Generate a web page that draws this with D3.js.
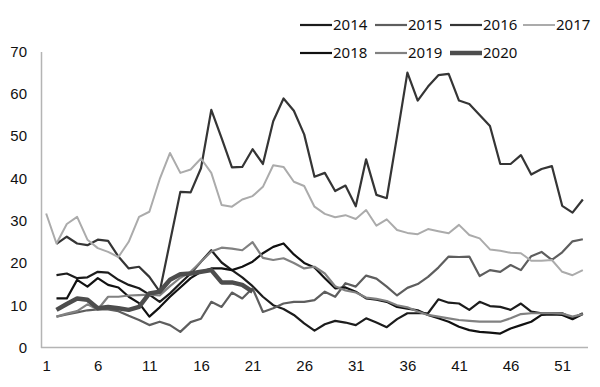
<!DOCTYPE html>
<html>
<head>
<meta charset="utf-8">
<script src="https://cdn.jsdelivr.net/npm/d3@7"></script>
<style>
  body { margin: 0; background: #fff; }
  svg { display: block; }
</style>
</head>
<body>
<div id="chart"></div>
<script>
// weeks on the x axis
var weeks = [1, 2, 3, 4, 5, 6, 7, 8, 9, 10, 11, 12, 13, 14, 15, 16, 17, 18, 19, 20,
             21, 22, 23, 24, 25, 26, 27, 28, 29, 30, 31, 32, 33, 34, 35, 36, 37, 38, 39, 40,
             41, 42, 43, 44, 45, 46, 47, 48, 49, 50, 51, 52, 53];
var xTicks = [1, 6, 11, 16, 21, 26, 31, 36, 41, 46, 51];
var yTicks = [0, 10, 20, 30, 40, 50, 60, 70];
var years = ['2014', '2015', '2016', '2017', '2018', '2019', '2020'];

var v2014 = [null, 17.1, 17.5, 16.4, 16.6, 17.9, 17.7, 16.0, 14.8, 14.0,
             12.5, 10.8, 12.8, 15.2, 17.5, 20.3, 23.0, 20.1, 18.3, 16.6,
             14.5, 12.0, 10.0, 9.1, 7.7, 5.7, 4.0, 5.5, 6.3, 5.9,
             5.3, 6.9, 5.9, 4.8, 6.7, 8.1, 8.1, 8.1, 11.4, 10.6,
             10.4, 8.9, 10.8, 9.8, 9.6, 8.9, 10.4, 8.5, 8.1, 8.1,
             8.1, 6.9, 8.1];
var v2015 = [null, 7.3, 7.8, 8.3, 8.8, 9.0, 9.0, 8.6, 7.5, 6.5,
             5.3, 6.1, 5.3, 3.7, 6.0, 6.8, 10.8, 9.6, 13.0, 11.6,
             14.0, 8.4, 9.3, 10.4, 10.8, 10.8, 11.2, 13.2, 12.0, 15.2,
             14.4, 17.0, 16.3, 14.4, 12.3, 14.1, 15.0, 16.7, 18.9, 21.5,
             21.4, 21.5, 16.9, 18.3, 17.9, 19.5, 18.3, 21.6, 22.6, 20.7,
             22.5, 25.1, 25.6];
var v2016 = [null, 24.5, 26.2, 24.6, 24.2, 25.5, 25.2, 21.5, 18.7, 19.1,
             16.7, 13.2, 25.0, 36.8, 36.7, 42.4, 56.2, 49.5, 42.6, 42.7,
             46.9, 43.4, 53.5, 58.9, 56.0, 50.4, 40.4, 41.3, 37.0, 38.3,
             33.4, 44.5, 36.1, 35.3, 50.0, 65.0, 58.4, 61.7, 64.4, 64.7,
             58.4, 57.6, 55.0, 52.4, 43.4, 43.4, 45.5, 40.9, 42.2, 42.9,
             33.5, 31.9, 35.0];
var v2017 = [31.7, 24.6, 29.2, 30.9, 25.5, 23.5, 22.6, 21.4, 25.0, 30.9,
             32.1, 39.8, 46.0, 41.3, 42.1, 44.7, 41.3, 33.7, 33.3, 35.0,
             35.8, 38.0, 43.1, 42.7, 39.2, 38.2, 33.3, 31.6, 30.8, 31.3,
             30.4, 32.5, 28.8, 30.3, 27.8, 27.1, 26.8, 28.0, 27.5, 27.0,
             29.0, 26.6, 25.8, 23.2, 22.9, 22.4, 22.3, 20.5, 20.5, 20.7,
             17.9, 17.1, 18.3];
var v2018 = [null, 11.6, 11.6, 16.0, 14.4, 16.4, 14.8, 14.2, 12.0, 10.5,
             7.3, 9.5, 12.0, 14.2, 16.4, 17.9, 18.7, 18.7, 18.3, 19.1,
             20.3, 22.3, 23.8, 24.6, 22.0, 20.0, 18.9, 16.4, 14.0, 14.2,
             13.2, 11.6, 11.3, 10.8, 9.6, 9.2, 8.8, 7.7, 6.9, 6.1,
             4.9, 4.1, 3.7, 3.5, 3.3, 4.5, 5.3, 6.1, 7.7, 7.8,
             7.7, 6.7, 7.9];
var v2019 = [null, 7.3, 8.0, 8.6, 10.2, 9.0, 12.0, 12.0, 12.3, 12.4,
             12.5, 12.3, 14.5, 16.5, 17.9, 20.3, 22.7, 23.6, 23.4, 23.0,
             24.9, 21.2, 20.7, 21.1, 20.0, 18.7, 19.1, 17.5, 14.5, 13.5,
             13.0, 11.8, 11.5, 11.0, 10.0, 9.5, 8.5, 7.7, 7.3, 6.9,
             6.5, 6.3, 6.1, 6.1, 6.1, 6.9, 7.9, 8.1, 8.1, 8.1,
             8.0, 7.3, 7.9];
var v2020 = [null, 8.9, 10.3, 11.6, 11.3, 9.3, 9.6, 9.3, 8.9, 9.6,
             12.8, 13.2, 16.0, 17.3, 17.5, 17.9, 18.3, 15.4, 15.4, 14.8,
             13.2];

var values = [v2014, v2015, v2016, v2017, v2018, v2019, v2020];
var colors = ['#1c1c1c', '#5e5e5e', '#353535', '#ababab', '#111111', '#818181', '#4d4d4d'];
var widths = [2.2, 2.2, 2.2, 2, 2.2, 2.2, 4.5];

var W = 600, H = 387;
var plotLeft = 41, plotRight = 588, plotTop = 51.5, plotBottom = 347.5;

var svg = d3.select('#chart')
            .append('svg')
            .attr('width', W)
            .attr('height', H)
            .style('font-family', '"Noto Sans", "Open Sans", sans-serif');

var x = d3.scalePoint()
          .domain(weeks)
          .range([plotLeft, plotRight])
          .padding(0.5);

var y = d3.scaleLinear()
          .domain([0, 70])
          .range([plotBottom, plotTop]);

//Y axis
var yAxis = svg.append('g')
               .attr('transform', 'translate(' + plotLeft + ',0)')
               .call(d3.axisLeft(y).tickValues(yTicks).tickSize(0).tickPadding(14));
yAxis.select('.domain').attr('stroke', '#b4b4b4').attr('stroke-width', 1.5);
yAxis.selectAll('text').attr('fill', '#111').style('font-size', '15px');

//X axis
var xAxis = svg.append('g')
               .attr('transform', 'translate(0,' + plotBottom + ')')
               .call(d3.axisBottom(x).tickValues(xTicks).tickSize(0).tickPadding(13));
xAxis.select('.domain').attr('stroke', '#b4b4b4').attr('stroke-width', 1.5)
     .attr('d', 'M' + plotLeft + ',0H' + plotRight);
xAxis.selectAll('text').attr('fill', '#111').style('font-size', '15px');

//Series lines
var line = d3.line()
             .defined(function(d) {return d.v !== null && d.v !== undefined;})
             .x(function(d) {return x(d.w);})
             .y(function(d) {return y(d.v);});

values.forEach(function(vals, k) {
    var pts = weeks.map(function(w, i) {return {w: w, v: vals[i]};});
    svg.append('path')
       .datum(pts)
       .attr('d', line)
       .attr('fill', 'none')
       .attr('stroke', colors[k])
       .attr('stroke-width', widths[k])
       .attr('stroke-linejoin', 'round');
});

//Legend, two rows
var legendX = [300, 375, 450, 523];
var legendY = [25, 53];
years.forEach(function(yr, k) {
    var lx = legendX[k % 4], ly = legendY[Math.floor(k / 4)];
    svg.append('line')
       .attr('x1', lx).attr('x2', lx + 32)
       .attr('y1', ly).attr('y2', ly)
       .attr('stroke', colors[k])
       .attr('stroke-width', widths[k]);
    svg.append('text')
       .attr('x', lx + 33)
       .attr('y', ly)
       .attr('dy', '0.35em')
       .attr('fill', '#111')
       .style('font-size', '15px')
       .text(yr);
});
</script>
</body>
</html>
